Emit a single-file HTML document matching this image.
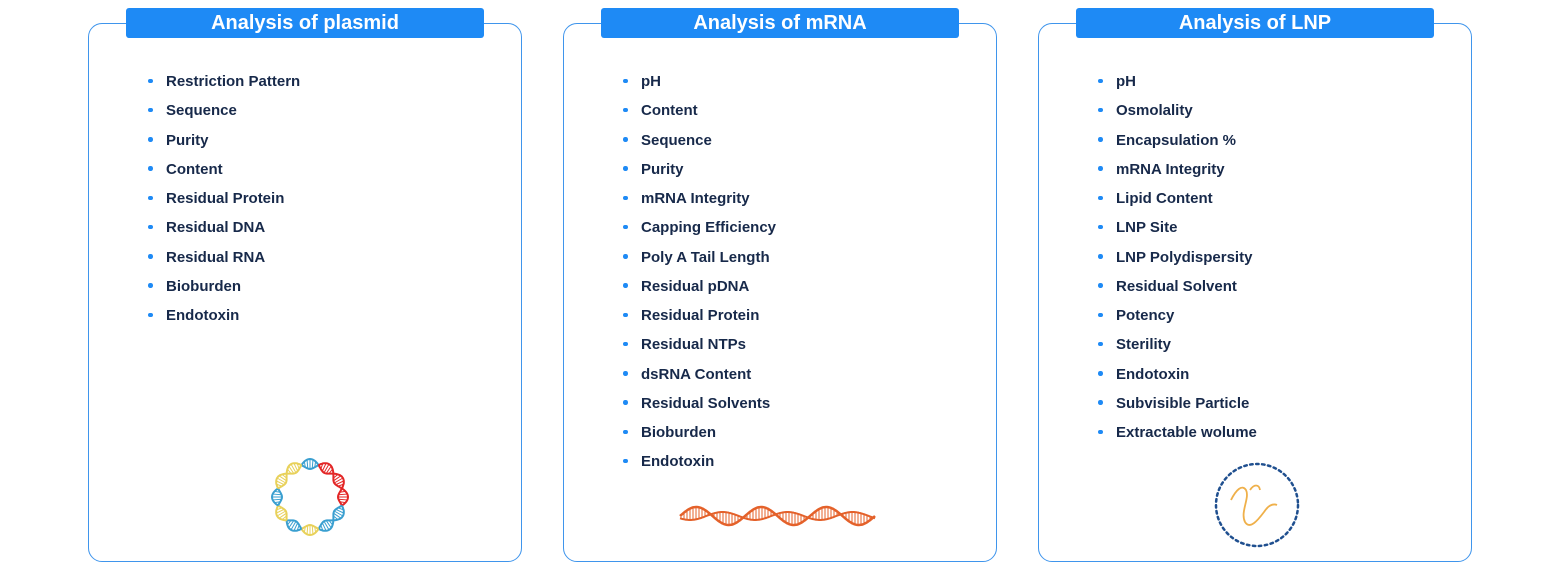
<!DOCTYPE html>
<html><head><meta charset="utf-8"><style>
body{margin:0;width:1560px;height:567px;background:#fff;position:relative;overflow:hidden;font-family:"Liberation Sans",sans-serif}
.box{position:absolute;top:23px;width:434px;height:539px;border:1.6px solid #3f95ec;border-radius:14px;box-sizing:border-box}
.hd{position:absolute;top:8px;width:358px;height:30px;background:#1e8af5;border-radius:3px;color:#fff;font-weight:bold;font-size:20px;line-height:30px;text-align:center}
ul{position:absolute;top:67px;margin:0;padding:0;list-style:none}
li{height:29.25px;line-height:29.25px;font-size:15px;font-weight:bold;color:#17294a;position:relative;padding-left:18px}
li:before{content:"";position:absolute;left:0;top:11.5px;width:4.5px;height:4.5px;border-radius:50%;background:#1e8af5}
svg{position:absolute;left:0;top:0}
</style></head><body>
<div class="box" style="left:88px"></div>
<div class="box" style="left:563px"></div>
<div class="box" style="left:1038px"></div>
<div class="hd" style="left:126px">Analysis of plasmid</div>
<div class="hd" style="left:601px">Analysis of mRNA</div>
<div class="hd" style="left:1076px">Analysis of LNP</div>
<ul style="left:148px">
<li>Restriction Pattern</li><li>Sequence</li><li>Purity</li><li>Content</li><li>Residual Protein</li><li>Residual DNA</li><li>Residual RNA</li><li>Bioburden</li><li>Endotoxin</li></ul>
<ul style="left:623px">
<li>pH</li><li>Content</li><li>Sequence</li><li>Purity</li><li>mRNA Integrity</li><li>Capping Efficiency</li><li>Poly A Tail Length</li><li>Residual pDNA</li><li>Residual Protein</li><li>Residual NTPs</li><li>dsRNA Content</li><li>Residual Solvents</li><li>Bioburden</li><li>Endotoxin</li></ul>
<ul style="left:1098px">
<li>pH</li><li>Osmolality</li><li>Encapsulation %</li><li>mRNA Integrity</li><li>Lipid Content</li><li>LNP Site</li><li>LNP Polydispersity</li><li>Residual Solvent</li><li>Potency</li><li>Sterility</li><li>Endotoxin</li><li>Subvisible Particle</li><li>Extractable wolume</li></ul>
<svg width="1560" height="567" id="s">
<circle cx="1257" cy="505" r="41" fill="none" stroke="#1f4f8f" stroke-width="2.5" stroke-dasharray="2.5 3.5" stroke-linecap="round"/>
<path d="M1231 500 C1236 490,1242 484,1246 490 C1250 498,1240 512,1245 522 C1250 530,1258 520,1264 512 C1268 506,1272 503,1277 505" fill="none" stroke="#efb04a" stroke-width="1.8"/>
<path d="M1250 490 C1254 484,1259 484,1260 490" fill="none" stroke="#efb04a" stroke-width="1.8"/>
</svg>
<script>
var s=document.getElementById('s'),h='';
var cx=310,cy=497,R=33;
var cols=['#3a9fd0','#e32626','#e32626','#e32626','#3a9fd0','#3a9fd0','#e8d15a','#3a9fd0','#e8d15a','#3a9fd0','#e8d15a','#e8d15a'];
for(var k=0;k<12;k++){
 var c=cols[k],p1='',p2='';
 for(var i=0;i<=20;i++){
  var t=(k-0.5+i/20)/12*2*Math.PI, ph=(i/20)*Math.PI;
  var a=R+5*Math.sin(ph),b=R-5*Math.sin(ph);
  var x1=cx+a*Math.sin(t),y1=cy-a*Math.cos(t),x2=cx+b*Math.sin(t),y2=cy-b*Math.cos(t);
  p1+=(i?'L':'M')+x1.toFixed(1)+' '+y1.toFixed(1);
  p2+=(i?'L':'M')+x2.toFixed(1)+' '+y2.toFixed(1);
  if(i%3==1)h+='<line x1="'+x1+'" y1="'+y1+'" x2="'+x2+'" y2="'+y2+'" stroke="'+c+'" stroke-width="1"/>';
 }
 h+='<path d="'+p1+'" fill="none" stroke="'+c+'" stroke-width="2"/><path d="'+p2+'" fill="none" stroke="'+c+'" stroke-width="2"/>';
}
var q1='',q2='';
for(var x=680;x<=875;x+=1){
 var ph=(x-680)/195*3*2*Math.PI;
 var ya=516-9*Math.sin(ph),yb=516+4*Math.sin(ph+0.6);
 q1+=(x>680?'L':'M')+x+' '+ya.toFixed(1);q2+=(x>680?'L':'M')+x+' '+yb.toFixed(1);
 if(x%3==0)h+='<line x1="'+x+'" y1="'+ya+'" x2="'+x+'" y2="'+yb+'" stroke="#e4612a" stroke-width="1"/>';
}
h+='<path d="'+q1+'" fill="none" stroke="#e4612a" stroke-width="2.5"/><path d="'+q2+'" fill="none" stroke="#e4612a" stroke-width="2"/>';
s.insertAdjacentHTML('beforeend',h);
</script>
</body></html>
